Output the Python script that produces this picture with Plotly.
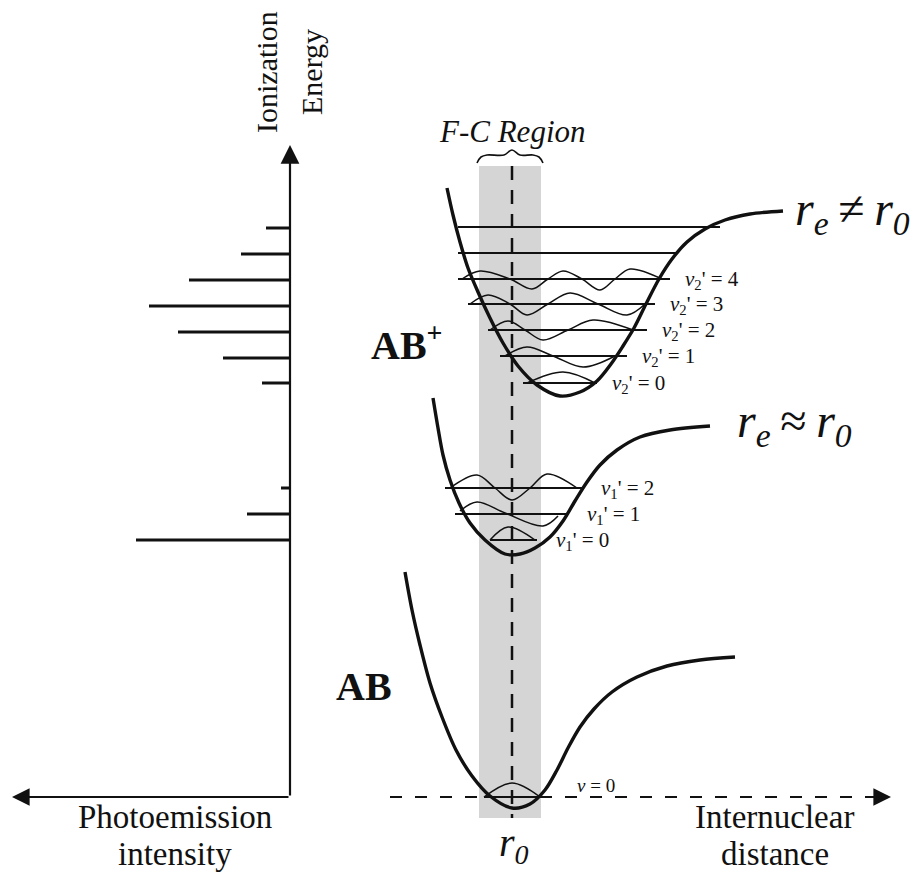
import plotly.graph_objects as go

# ---------------- DATA (diagram units: x to the right, y = energy drawn downward) ----------------
# Energy axis / baseline
axis_x = 290
axis_top = 145
base_y = 797
left_arrow_end = 12
dash_start = 390
dash_end = 891

# Franck-Condon region
r0 = 512
fc_left = 479
fc_right = 541
fc_top = 166
fc_bottom = 818

# Photoemission spectrum (peak energy positions, peak intensities)
spec_energy = [228, 254, 280, 306, 332, 358, 383, 488, 514, 540]
spec_intensity = [24, 49, 101, 141, 112, 67, 28, 9, 43, 154]

# Potential energy curves
ion2_x = [447, 453, 460, 468, 478, 490, 503, 518, 537, 560, 580, 597, 611, 623, 634, 646, 659, 672, 687, 705, 725, 750, 783]
ion2_y = [188, 215, 242, 268, 292, 318, 343, 366, 385, 396, 392, 381, 364, 346, 328, 304, 279, 259, 242, 229, 220, 214, 211]

ion1_x = [433, 438, 443, 450, 459, 470, 485, 505, 520, 535, 550, 563, 575, 587, 600, 617, 640, 670, 710]
ion1_y = [398, 428, 455, 480, 503, 523, 540, 554, 554, 548, 537, 521, 501, 482, 465, 450, 437, 430, 426]

ab_x = [405, 412, 420, 430, 442, 456, 472, 490, 512, 530, 545, 557, 568, 580, 594, 612, 637, 667, 700, 735]
ab_y = [572, 610, 645, 683, 717, 750, 776, 796, 808, 804, 790, 770, 748, 727, 709, 692, 677, 666, 660, 657]

# Vibrational levels
ion2_level_y = [227, 253, 279, 304, 330, 356, 383]
ion2_level_left = [458, 458, 458, 468, 488, 500, 523]
ion2_level_right = [720, 677, 670, 655, 647, 627, 597]
ion2_level_label = ["", "", "4", "3", "2", "1", "0"]

ion1_level_y = [488, 514, 540]
ion1_level_left = [445, 455, 490]
ion1_level_right = [582, 568, 537]
ion1_level_label = ["2", "1", "0"]

ab_level_y = [797]
ab_level_left = [484]
ab_level_right = [540]

# Vibrational wavefunctions
w2v4_x = [462, 480, 510, 532, 548, 563, 582, 600, 615, 630, 662]
w2v4_y = [279, 271, 279, 289, 279, 271, 279, 290, 279, 269, 279]
w2v3_x = [470, 488, 510, 527, 548, 570, 598, 627, 645]
w2v3_y = [304, 295, 304, 315, 304, 293, 304, 315, 304]
w2v2_x = [490, 508, 525, 543, 568, 593, 633]
w2v2_y = [330, 321, 330, 340, 330, 320, 330]
w2v1_x = [505, 527, 553, 583, 615]
w2v1_y = [356, 347, 356, 367, 356]
w2v0_x = [527, 563, 595]
w2v0_y = [383, 372, 383]

w1v2_x = [450, 477, 495, 512, 530, 547, 577]
w1v2_y = [488, 475, 488, 500, 488, 474, 488]
w1v1_x = [460, 477, 505, 543, 558]
w1v1_y = [511, 502, 513, 526, 516]
w1v0_x = [490, 508, 535]
w1v0_y = [540, 527, 540]

w0v0_x = [484, 512, 540]
w0v0_y = [797, 783, 797]

# ---------------- FIGURE ----------------
BLACK = "#111111"
SERIF = "Liberation Serif, Times New Roman, serif"
fig = go.Figure()

# F-C band (below everything)
fig.add_shape(type="rect", xref="x", yref="y", x0=fc_left, x1=fc_right, y0=fc_top, y1=fc_bottom,
              fillcolor="#d5d5d5", line_width=0, layer="below")

# dashed r0 line
fig.add_trace(go.Scatter(x=[r0, r0], y=[fc_top, fc_bottom], mode="lines",
                         line=dict(color=BLACK, width=2.5, dash="14px,10px")))

# brace above F-C region (built from band edges)
bx = [fc_left - 2, fc_left + 2, fc_left + 8, r0 - 8, r0, r0 + 8, fc_right - 8, fc_right - 2, fc_right + 2]
by = [fc_top - 3, fc_top - 9, fc_top - 11, fc_top - 11, fc_top - 16, fc_top - 11, fc_top - 11, fc_top - 9, fc_top - 3]
fig.add_trace(go.Scatter(x=bx, y=by, mode="lines", line=dict(color=BLACK, width=1.6, shape="spline")))

# spectrum sticks
sx, sy = [], []
for e, inten in zip(spec_energy, spec_intensity):
    sx += [axis_x - inten, axis_x, None]
    sy += [e, e, None]
fig.add_trace(go.Scatter(x=sx, y=sy, mode="lines", line=dict(color=BLACK, width=3)))

# levels
def add_levels(ys, ls, rs, width):
    lx, ly = [], []
    for y, l, r in zip(ys, ls, rs):
        lx += [l, r, None]
        ly += [y, y, None]
    fig.add_trace(go.Scatter(x=lx, y=ly, mode="lines", line=dict(color=BLACK, width=width)))

add_levels(ion2_level_y, ion2_level_left, ion2_level_right, 1.8)
add_levels(ion1_level_y, ion1_level_left, ion1_level_right, 1.8)
add_levels(ab_level_y, ab_level_left, ab_level_right, 1.8)

# horizontal dashed internuclear axis
fig.add_trace(go.Scatter(x=[dash_start, dash_end - 18], y=[base_y, base_y], mode="lines",
                         line=dict(color=BLACK, width=2.2, dash="12px,13px")))

# wavefunctions
for wx, wy in [(w2v4_x, w2v4_y), (w2v3_x, w2v3_y), (w2v2_x, w2v2_y), (w2v1_x, w2v1_y), (w2v0_x, w2v0_y),
               (w1v2_x, w1v2_y), (w1v1_x, w1v1_y), (w1v0_x, w1v0_y), (w0v0_x, w0v0_y)]:
    fig.add_trace(go.Scatter(x=wx, y=wy, mode="lines", line=dict(color=BLACK, width=1.5, shape="spline")))

# potential curves
for cx, cy in [(ion2_x, ion2_y), (ion1_x, ion1_y), (ab_x, ab_y)]:
    fig.add_trace(go.Scatter(x=cx, y=cy, mode="lines",
                             line=dict(color=BLACK, width=3.4, shape="spline", smoothing=0.9)))

ann = []
# axis arrows
ann.append(dict(x=axis_x, y=axis_top, ax=axis_x, ay=base_y, axref="x", ayref="y", xref="x", yref="y",
                showarrow=True, arrowhead=2, arrowsize=1.7, arrowwidth=2.2, arrowcolor=BLACK, text=""))
ann.append(dict(x=left_arrow_end, y=base_y, ax=axis_x, ay=base_y, axref="x", ayref="y", xref="x", yref="y",
                showarrow=True, arrowhead=2, arrowsize=1.6, arrowwidth=2.2, arrowcolor=BLACK, text=""))
ann.append(dict(x=dash_end, y=base_y, ax=dash_end - 22, ay=base_y, axref="x", ayref="y", xref="x", yref="y",
                showarrow=True, arrowhead=2, arrowsize=1.6, arrowwidth=2.2, arrowcolor=BLACK, text=""))

def txt(x, y, s, size, xanchor="center", angle=0, yanchor="middle"):
    ann.append(dict(x=x, y=y, xref="x", yref="y", text=s, showarrow=False, textangle=angle,
                    xanchor=xanchor, yanchor=yanchor, font=dict(family=SERIF, size=size, color=BLACK)))

txt(266, 72, "Ionization", 30, angle=-90)
txt(311, 72, "Energy", 30, angle=-90)
txt(512, 131, "<i>F-C Region</i>", 31)
txt(407, 342, "<b>AB</b><sup><b>+</b></sup>", 40)
txt(364, 686, "<b>AB</b>", 40)
txt(793, 212, "<i>r</i><sub><i>e</i></sub>\u2009≠\u2009<i>r</i><sub><i>0</i></sub>", 48, xanchor="left")
txt(735, 424, "<i>r</i><sub><i>e</i></sub>\u2009≈\u2009<i>r</i><sub><i>0</i></sub>", 48, xanchor="left")
txt(175, 817, "Photoemission", 33)
txt(175, 854, "intensity", 33)
txt(774, 817, "Internuclear", 33)
txt(775, 854, "distance", 33)
txt(514, 845, "<i>r</i><sub><i>0</i></sub>", 40)

for y, r, lab in zip(ion2_level_y, ion2_level_right, ion2_level_label):
    if lab:
        txt(r + 13, y + 1, "<i>v</i><sub>2</sub>' = " + lab, 21, xanchor="left")
for y, r, lab in zip(ion1_level_y, ion1_level_right, ion1_level_label):
    txt(r + 17, y + 1, "<i>v</i><sub>1</sub>' = " + lab, 21, xanchor="left")
txt(ab_level_right[0] + 35, ab_level_y[0] - 12, "<i>v</i> = 0", 19, xanchor="left")

fig.update_layout(
    width=921, height=872, autosize=False,
    margin=dict(l=0, r=0, t=0, b=0, pad=0),
    paper_bgcolor="white", plot_bgcolor="white",
    showlegend=False, annotations=ann,
    xaxis=dict(range=[0, 921], visible=False, fixedrange=True),
    yaxis=dict(range=[872, 0], visible=False, fixedrange=True),
)

fig.write_html("out.html", config={"displayModeBar": False})
